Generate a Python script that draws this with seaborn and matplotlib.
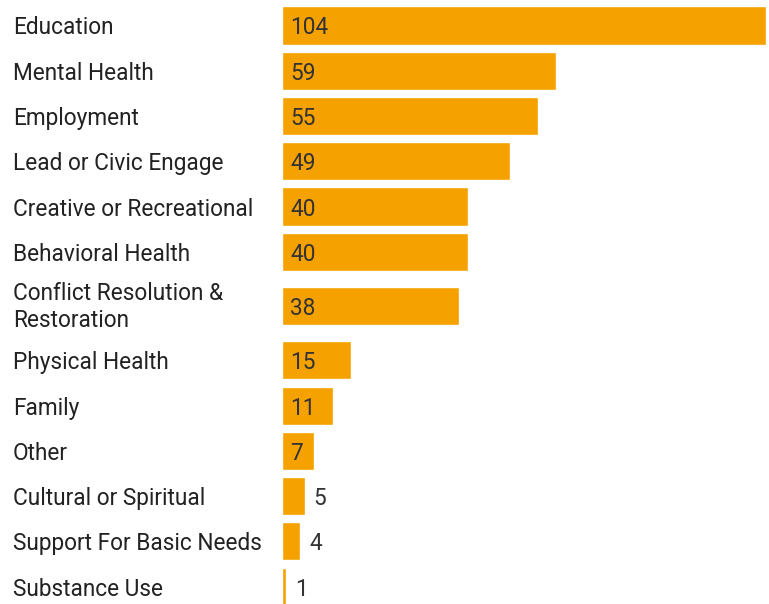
import matplotlib
matplotlib.use("Agg")
import matplotlib.pyplot as plt
from matplotlib.transforms import blended_transform_factory
import numpy as np
import pandas as pd
import seaborn as sns

categories = [
    "Education",
    "Mental Health",
    "Employment",
    "Lead or Civic Engage",
    "Creative or Recreational",
    "Behavioral Health",
    "Conflict Resolution &\nRestoration",
    "Physical Health",
    "Family",
    "Other",
    "Cultural or Spiritual",
    "Support For Basic Needs",
    "Substance Use",
]
counts = [104, 59, 55, 49, 40, 40, 38, 15, 11, 7, 5, 4, 1]

BAR_COLOR = "#F5A100"
LABEL_COLOR = "#222222"
VALUE_COLOR = "#333333"

sns.set_theme(style="white")
plt.rcParams["font.family"] = ["Roboto", "DejaVu Sans"]

# Row layout: two-line labels get a taller row
row_heights = [1.4 if "\n" in c else 1.0 for c in categories]
positions = []
acc = 0.0
for h in row_heights:
    positions.append(acc + (h - 1.0) / 2)
    acc += h
positions = np.array(positions)

df = pd.DataFrame({"category": categories, "count": counts, "pos": positions})

W, H = 769, 604
fig = plt.figure(figsize=(W / 100, H / 100), dpi=100)
ax = fig.add_axes([281.5 / W, 0, 484.5 / W, 1])

sns.barplot(
    data=df, x="count", y="pos", orient="h", native_scale=True,
    color=BAR_COLOR, saturation=1, width=0.84, ax=ax,
)

px_per_unit = 45.25
ax.set_ylim((H - 25.5) / px_per_unit, -25.5 / px_per_unit)
ax.set_xlim(0, 104)
ax.axis("off")

scale = 484.5 / 104  # pixels per count unit
fs = 16.3
trans_lbl = blended_transform_factory(fig.transFigure, ax.transData)
for cat, val, y in zip(categories, counts, positions):
    multiline = "\n" in cat
    ax.text(13 / W, y + (0.02 if multiline else 0), cat, transform=trans_lbl,
            ha="left", va="center" if multiline else "center_baseline",
            fontsize=fs, color=LABEL_COLOR, linespacing=1.2)
    text = str(val)
    bar_px = val * scale
    needed = 9 + len(text) * 12 + 4
    if bar_px >= needed:
        xpix = 8.5
    else:
        xpix = bar_px + 9
    ax.text(xpix / scale, y, text, ha="left", va="center_baseline",
            fontsize=fs, color=VALUE_COLOR)

fig.savefig("out.png", dpi=100, facecolor="white")
